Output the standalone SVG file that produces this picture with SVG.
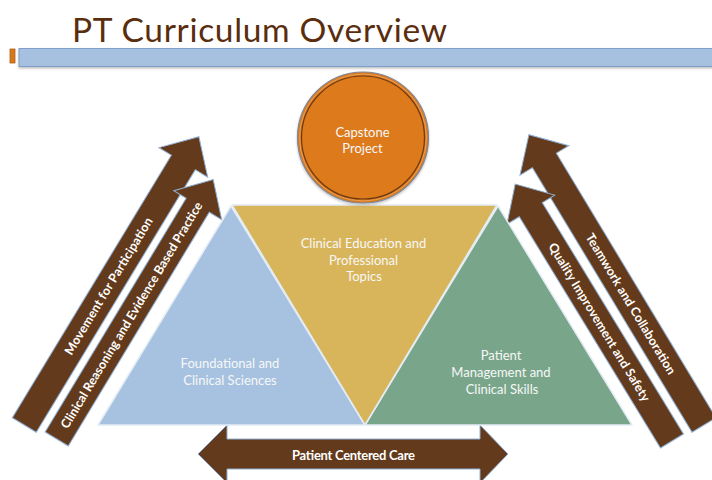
<svg xmlns="http://www.w3.org/2000/svg" width="712" height="480" viewBox="0 0 712 480">
<defs>
<style>
.arrow{fill:#633a1b;stroke:#8fb0d6;stroke-width:1}
.lbl{font-family:Lato,"Open Sans","Liberation Sans",sans-serif;font-weight:bold;fill:#ffffff;text-anchor:middle}
.al{font-size:12.5px}
.nl{font-family:Lato,"Open Sans","Liberation Sans",sans-serif;font-size:13px;fill:#f7f7f7;text-anchor:middle}
.tri{stroke:#e4ecf5;stroke-width:1.5;stroke-linejoin:round}
</style>
<filter id="sh" x="-10%" y="-10%" width="120%" height="130%">
<feDropShadow dx="0" dy="1.5" stdDeviation="1" flood-color="#000" flood-opacity="0.25"/>
</filter>
</defs>
<rect width="712" height="480" fill="#ffffff"/>
<g id="title">
<text x="72" y="42" font-family="Lato,'Open Sans','Liberation Sans',sans-serif" font-size="33.5" fill="#5a2d0e" textLength="375">PT Curriculum Overview</text>
<rect x="10" y="49" width="5" height="14" fill="#d8781c" stroke="#b0601a" stroke-width="0.8"/>
<rect x="19" y="48.5" width="700" height="18" fill="#a6c1df" stroke="#7f9fc8" stroke-width="1" filter="url(#sh)"/>
</g>
<g id="arrows">
<g id="arrow-movement" transform="translate(24.3,425) rotate(-58.8)">
<polygon class="arrow" points="0,-14 307,-14 307,-28.5 337,0 307,28.5 307,14 0,14"/>
<text class="lbl al" x="162.5" y="4.5" textLength="158">Movement for Participation</text>
</g>
<g id="arrow-clinical-reasoning" transform="translate(56.7,439) rotate(-58.9)">
<polygon class="arrow" points="0,-13.5 273,-13.5 273,-28 303,0 273,28 273,13.5 0,13.5"/>
<text class="lbl al" x="144.7" y="4.5" textLength="262">Clinical Reasoning and Evidence Based Practice</text>
</g>
<g id="arrow-teamwork" transform="translate(704,425) rotate(58.9)">
<polygon class="arrow" points="0,-14 -309,-14 -309,-28.5 -339,0 -309,28.5 -309,14 0,14"/>
<text class="lbl al" x="-141.6" y="4.5" textLength="162">Teamwork and Collaboration</text>
</g>
<g id="arrow-quality" transform="translate(672,441) rotate(58.6)">
<polygon class="arrow" points="0,-13.5 -271,-13.5 -271,-28 -301,0 -271,28 -271,13.5 0,13.5"/>
<text class="lbl al" x="-139.3" y="4.5" textLength="183">Quality Improvement and Safety</text>
</g>
<g id="arrow-patient-centered">
<polygon class="arrow" points="198,454 227,425 227,439 480,439 480,425 508,454 480,483 480,469 227,469 227,483"/>
<text class="lbl" x="353.5" y="459.5" font-size="13" textLength="123">Patient Centered Care</text>
</g>
</g>
<g id="foundational">
<polygon class="tri" points="231,206 98,425 365,425" fill="#a6c2e0"/>
<text class="nl" x="230" y="368">Foundational and</text>
<text class="nl" x="230" y="385">Clinical Sciences</text>
</g>
<g id="patient-management">
<polygon class="tri" points="498,206 365,425 632,425" fill="#79a68a"/>
<text class="nl" x="501" y="360">Patient</text>
<text class="nl" x="501" y="377">Management and</text>
<text class="nl" x="502" y="394">Clinical Skills</text>
</g>
<g id="clinical-education">
<polygon class="tri" points="232,205 497,205 365,425" fill="#d8b55b"/>
<text class="nl" x="363.5" y="248">Clinical Education and</text>
<text class="nl" x="363.5" y="264.5">Professional</text>
<text class="nl" x="364" y="281">Topics</text>
</g>
<g id="capstone">
<circle cx="363" cy="137.5" r="65.5" fill="#da781c" stroke="#7d8796" stroke-width="1.2" filter="url(#sh)"/>
<circle cx="363" cy="137.5" r="63.5" fill="none" stroke="#eca260" stroke-width="0.9"/>
<circle cx="363" cy="137.5" r="61.5" fill="#dc7a1c" stroke="#6e3a10" stroke-width="1.2"/>
<text class="nl" x="362.5" y="137">Capstone</text>
<text class="nl" x="362.5" y="153">Project</text>
</g>
</svg>
